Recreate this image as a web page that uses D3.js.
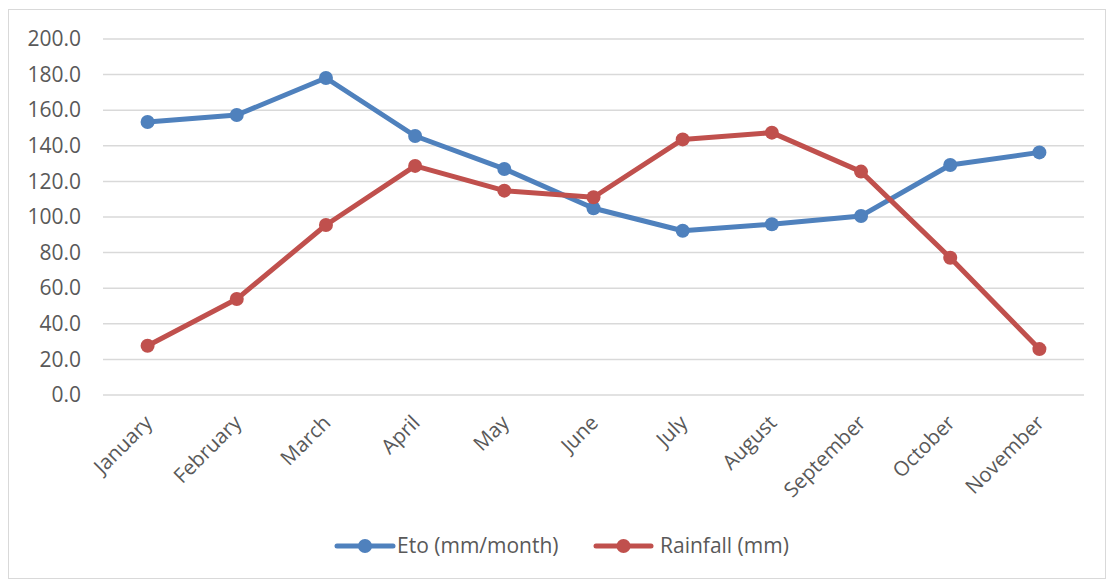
<!DOCTYPE html>
<html>
<head>
<meta charset="utf-8">
<script src="https://cdn.jsdelivr.net/npm/d3@7"></script>
<style>
  html, body { margin: 0; padding: 0; background: #fff; }
  svg { display: block; }
  text { font-family: "Open Sans", sans-serif; fill: #595959; }
</style>
</head>
<body>
<svg id="chart" width="1107" height="581"></svg>
<script>
// Monthly reference evapotranspiration and rainfall
const months = ["January", "February", "March", "April", "May", "June",
                "July", "August", "September", "October", "November"];
const etoValues = [153.4, 157.3, 178.1, 145.5, 127.0, 104.9, 92.3, 95.9, 100.6, 129.2, 136.3];
const rainValues = [27.7, 53.9, 95.5, 128.7, 114.8, 111.1, 143.6, 147.4, 125.5, 77.1, 25.8];
const yTicks = [0, 20, 40, 60, 80, 100, 120, 140, 160, 180, 200];
const seriesNames = ["Eto (mm/month)", "Rainfall (mm)"];
const seriesColors = ["#4f81bd", "#c0504d"];

const W = 1107, H = 581;
const margin = { left: 103, right: 23, top: 39, bottom: 186 };
const svg = d3.select("#chart");

// outer chart frame
svg.append("rect")
  .attr("x", 8.5).attr("y", 9.5)
  .attr("width", W - 10).attr("height", H - 12)
  .attr("fill", "#fff").attr("stroke", "#d9d9d9").attr("stroke-width", 1);

const x = d3.scaleBand().domain(months)
  .range([margin.left, W - margin.right]).padding(0);
const y = d3.scaleLinear().domain([0, 200])
  .range([H - margin.bottom, margin.top]);

// horizontal gridlines
svg.append("g")
  .selectAll("line").data(yTicks).join("line")
  .attr("x1", margin.left).attr("x2", W - margin.right)
  .attr("y1", d => y(d)).attr("y2", d => y(d))
  .attr("stroke", "#d9d9d9").attr("stroke-width", 1.5);

// y axis labels
const yAxis = d3.axisLeft(y).tickValues(yTicks)
  .tickFormat(d3.format(".1f")).tickSize(0).tickPadding(22);
const gy = svg.append("g").attr("transform", `translate(${margin.left},0)`).call(yAxis);
gy.select(".domain").remove();
gy.selectAll("text")
  .style("font-family", "'Open Sans', sans-serif")
  .style("font-size", "21px").attr("fill", "#595959");

// x axis labels, rotated
const xAxis = d3.axisBottom(x).tickSize(0).tickPadding(0);
const gx = svg.append("g").attr("transform", `translate(0,${y(0)})`).call(xAxis);
gx.select(".domain").remove();
gx.selectAll("text")
  .style("font-family", "'Open Sans', sans-serif")
  .style("font-size", "20.5px").attr("fill", "#595959")
  .attr("text-anchor", "end")
  .attr("dy", "0")
  .attr("transform", "translate(6,29) rotate(-45)");

// series lines and markers
const seriesData = [etoValues, rainValues];
const line = d3.line()
  .x((d, i) => x(months[i]) + x.bandwidth() / 2)
  .y(d => y(d));

seriesData.forEach((vals, s) => {
  const g = svg.append("g");
  g.append("path").datum(vals)
    .attr("d", line)
    .attr("fill", "none")
    .attr("stroke", seriesColors[s])
    .attr("stroke-width", 5)
    .attr("stroke-linejoin", "round")
    .attr("stroke-linecap", "round");
  g.selectAll("circle").data(vals).join("circle")
    .attr("cx", (d, i) => x(months[i]) + x.bandwidth() / 2)
    .attr("cy", d => y(d))
    .attr("r", 7)
    .attr("fill", seriesColors[s]);
});

// legend
const legendY = 546;
const legendItems = [{ x0: 337, x1: 393, tx: 397 }, { x0: 596, x1: 651, tx: 660 }];
legendItems.forEach((it, s) => {
  const g = svg.append("g");
  g.append("line")
    .attr("x1", it.x0).attr("x2", it.x1)
    .attr("y1", legendY).attr("y2", legendY)
    .attr("stroke", seriesColors[s]).attr("stroke-width", 5)
    .attr("stroke-linecap", "round");
  g.append("circle")
    .attr("cx", (it.x0 + it.x1) / 2).attr("cy", legendY)
    .attr("r", 7).attr("fill", seriesColors[s]);
  g.append("text")
    .attr("x", it.tx).attr("y", legendY)
    .attr("dy", "0.35em")
    .style("font-size", "21px")
    .text(seriesNames[s]);
});
</script>
</body>
</html>
